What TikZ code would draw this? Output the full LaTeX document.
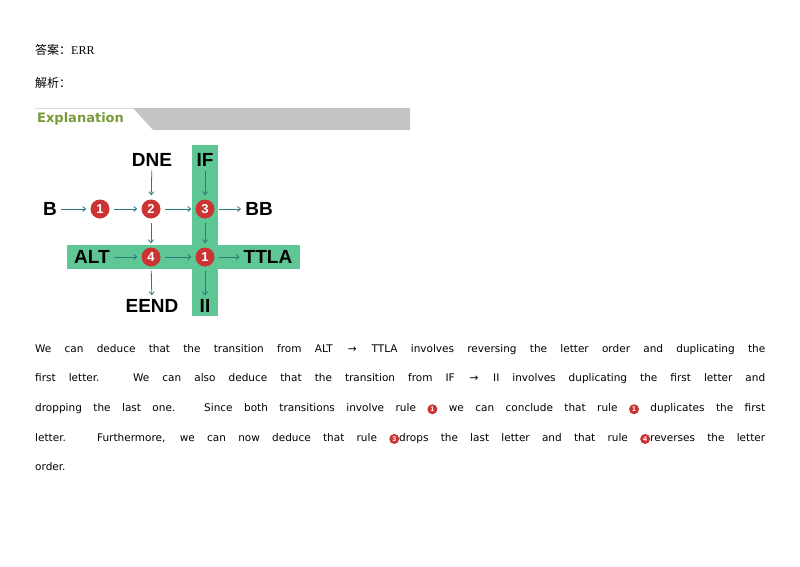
\documentclass[tikz,border=0pt]{standalone}
\usetikzlibrary{arrows.meta}
\usepackage{fontspec}
\setmainfont{DejaVu Sans}
\newfontfamily\cjk{Noto Sans CJK SC}
\newfontfamily\lib{Liberation Sans}
\newfontfamily\libser{Liberation Serif}
\definecolor{band}{HTML}{5FC796}
\definecolor{rred}{HTML}{CC3333}
\definecolor{teal}{HTML}{2A7A7A}
\definecolor{expl}{HTML}{7A9A3A}
\definecolor{bar}{HTML}{C4C4C4}
\newcommand{\rc}[1]{\tikz[baseline=-6pt]\node[circle,fill=rred,inner sep=0pt,minimum size=10pt,text=white,font=\lib\bfseries\fontsize{7}{7}\selectfont]{#1};}
\begin{document}
\begin{tikzpicture}[x=1pt,y=-1pt,
  lbl/.style={font=\lib\bfseries\fontsize{19}{19}\selectfont,inner sep=0pt},
  rule/.style={circle,fill=rred,inner sep=0pt,minimum size=19pt,text=white,font=\lib\bfseries\fontsize{13}{13}\selectfont},
  ar/.style={->,teal,line width=0.8pt,>={Straight Barb[length=3pt,width=5pt]},shorten >=4pt,shorten <=4pt}]
\useasboundingbox[fill=white] (0,0) rectangle (800,566);
\node[anchor=west,inner sep=0pt,font=\fontsize{12}{12}\selectfont] (ans) at (35,50) {{\cjk 答案：}{\libser ERR}};
\node[anchor=west,inner sep=0pt,font=\fontsize{12}{12}\selectfont] (jx) at (35,83) {\cjk 解析：};
\fill[bar] (133,108) -- (410,108) -- (410,130) -- (153,130) -- cycle;
\draw[bar!60,line width=0.8pt] (35,108) -- (133,108);
\node[anchor=west,inner sep=0pt,text=expl,font=\bfseries\fontsize{13}{13}\selectfont] (ex) at (37,119) {Explanation};
\fill[band] (192,145) rectangle (218,316);
\fill[band] (67,245) rectangle (300,269);
\node[lbl] (DNE) at (152,160) {DNE};
\node[lbl] (IF) at (205,160) {IF};
\node[lbl] (B) at (50,209) {B};
\node[rule] (c1) at (100,209) {1};
\node[rule] (c2) at (151,209) {2};
\node[rule] (c3) at (205,209) {3};
\node[lbl] (BB) at (259,209) {BB};
\node[lbl] (ALT) at (92,257) {ALT};
\node[rule] (c4) at (151,257) {4};
\node[rule] (c1b) at (205,257) {1};
\node[lbl] (TTLA) at (268,257) {TTLA};
\node[lbl] (EEND) at (152,306) {EEND};
\node[lbl] (II) at (205,306) {II};
\draw[ar] (B) -- (c1); \draw[ar] (c1) -- (c2); \draw[ar] (c2) -- (c3); \draw[ar] (c3) -- (BB);
\draw[ar] (ALT) -- (c4); \draw[ar] (c4) -- (c1b); \draw[ar] (c1b) -- (TTLA);
\draw[ar] (DNE) -- (c2); \draw[ar] (c2) -- (c4); \draw[ar] (c4) -- (EEND);
\draw[ar] (IF) -- (c3); \draw[ar] (c3) -- (c1b); \draw[ar] (c1b) -- (II);
\node[anchor=north west,inner sep=0pt,text width=730pt,align=justify,
  font=\fontsize{10.5}{29.7}\selectfont] (para) at (35,344) {We can deduce that the transition from ALT \,→\, TTLA involves reversing the letter order and duplicating the\linebreak first letter. We can also deduce that the transition from IF \,→\, II involves duplicating the first letter and\linebreak dropping the last one. Since both transitions involve rule \rc{1} we can conclude that rule \rc{1} duplicates the first\linebreak letter. Furthermore, we can now deduce that rule \rc{3}drops the last letter and that rule \rc{4}reverses the letter\linebreak order.};
\end{tikzpicture}
\end{document}
